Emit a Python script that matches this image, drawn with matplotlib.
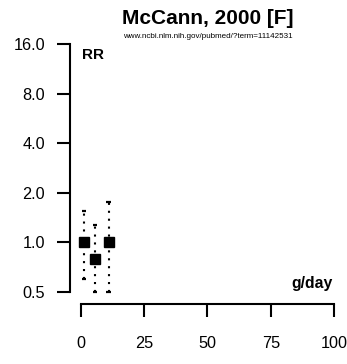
import matplotlib
matplotlib.use("Agg")
import matplotlib.pyplot as plt
import numpy as np

plt.rcParams['font.family'] = ['Liberation Sans', 'DejaVu Sans']

dose = [1.2, 5.5, 11.0]
rr = [1.0, 0.79, 1.0]
lo = [0.6, 0.5, 0.5]
hi = [1.56, 1.28, 1.75]
yticks = [0.5, 1.0, 2.0, 4.0, 8.0, 16.0]
xticks = [0, 25, 50, 75, 100]

W, H = 347, 364
fig = plt.figure(figsize=(W / 100, H / 100), dpi=100)
ax = fig.add_axes([70 / W, (H - 292) / H, (334 - 70) / W, (292 - 44) / H])
ax.set_yscale('log', base=2)
ax.set_ylim(0.5, 16)
ax.set_xlim(-4.3, 100)

for x, y, l, h in zip(dose, rr, lo, hi):
    ax.plot([x, x], [l, h], linestyle=(0, (1, 2.8)), color='black', lw=1.5,
            solid_capstyle='butt', clip_on=False)
    for c in (l, h):
        ax.plot([x - 0.9, x + 0.9], [c, c], color='black', lw=1.6, clip_on=False,
                solid_capstyle='butt')
    ax.plot(x, y, marker='s', color='black', markersize=7.5, clip_on=False)

for s in ('top', 'right'):
    ax.spines[s].set_visible(False)
ax.spines['bottom'].set_position(('outward', 8.5))
ax.spines['bottom'].set_bounds(0, 100)
ax.spines['left'].set_bounds(0.5, 16)
ax.spines['left'].set_linewidth(1.5)
ax.spines['bottom'].set_linewidth(1.5)

ax.set_yticks(yticks)
ax.set_yticklabels(['%.1f' % v for v in yticks])
ax.yaxis.set_minor_locator(matplotlib.ticker.NullLocator())
ax.set_xticks(xticks)
ax.set_xticklabels([str(v) for v in xticks])
ax.tick_params(axis='both', direction='out', length=9.5, width=1.5, labelsize=11.7,
               colors='black')
ax.tick_params(axis='y', pad=8.5)
ax.tick_params(axis='x', pad=14)

ax.text(0.045, 0.955, 'RR', transform=ax.transAxes, fontsize=11, fontweight='bold',
        ha='left', va='center')
ax.text(0.995, 0.005, 'g/day', transform=ax.transAxes, fontsize=11.3, fontweight='bold',
        ha='right', va='bottom')

fig.text(208 / W, 1 - 18 / H, 'McCann, 2000 [F]', fontsize=15, fontweight='bold',
         ha='center', va='center')
fig.text(208 / W, 1 - 37 / H, 'www.ncbi.nlm.nih.gov/pubmed/?term=11142531',
         fontsize=5.8, ha='center', va='center')

fig.savefig('out.png', dpi=100)
